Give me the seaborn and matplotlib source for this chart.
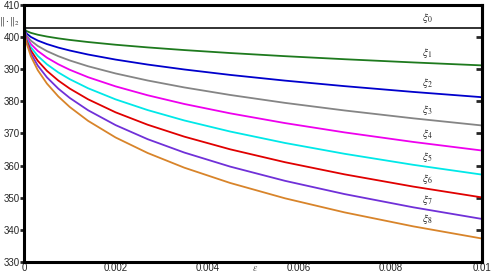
import numpy as np
import pandas as pd
import matplotlib
matplotlib.use("Agg")
import matplotlib.pyplot as plt
import seaborn as sns

eps = [0, 0.00005, 0.00015, 0.0003, 0.0005, 0.00075, 0.001, 0.0014, 0.002,
       0.0027, 0.0035, 0.0045, 0.0057, 0.007, 0.0085, 0.01]
xi0 = [402.8] * 16
xi1 = [402.8, 401.92, 401.33, 400.75, 400.18, 399.61, 399.13, 398.47, 397.63,
       396.80, 395.97, 395.05, 394.07, 393.12, 392.12, 391.2]
xi2 = [402.8, 401.20, 400.05, 398.94, 397.84, 396.74, 395.83, 394.58, 393.01,
       391.46, 389.93, 388.24, 386.46, 384.74, 382.94, 381.3]
xi3 = [402.8, 400.58, 398.90, 397.26, 395.65, 394.06, 392.73, 390.93, 388.69,
       386.50, 384.34, 382.00, 379.53, 377.17, 374.72, 372.5]
xi4 = [402.8, 400.06, 397.85, 395.71, 393.61, 391.55, 389.83, 387.52, 384.67,
       381.90, 379.19, 376.28, 373.24, 370.34, 367.37, 364.7]
xi5 = [402.8, 399.57, 396.84, 394.16, 391.55, 389.00, 386.90, 384.08, 380.62,
       377.29, 374.06, 370.62, 367.05, 363.68, 360.25, 357.2]
xi6 = [402.8, 399.13, 395.85, 392.64, 389.51, 386.47, 383.97, 380.64, 376.59,
       372.73, 369.02, 365.08, 361.06, 357.28, 353.47, 350.1]
xi7 = [402.8, 398.73, 394.91, 391.15, 387.49, 383.95, 381.06, 377.23, 372.61,
       368.23, 364.07, 359.70, 355.26, 351.14, 347.02, 343.4]
xi8 = [402.8, 398.39, 394.03, 389.72, 385.55, 381.52, 378.24, 373.93, 368.76,
       363.93, 359.36, 354.61, 349.82, 345.44, 341.09, 337.3]

names = ["ξ0", "ξ1", "ξ2", "ξ3", "ξ4", "ξ5", "ξ6", "ξ7", "ξ8"]
labels = [r"$\xi_{%d}$" % i for i in range(9)]
series = [xi0, xi1, xi2, xi3, xi4, xi5, xi6, xi7, xi8]
colors = ["#222222", "#1e7a1e", "#0000cc", "#858585", "#ee00ee",
          "#00e8e8", "#e00000", "#7030d8", "#d8842a"]

xticks = [0, 0.002, 0.004, 0.006, 0.008, 0.01]
xticklabels = ["0", "0.002", "0.004", "0.006", "0.008", "0.01"]
yticks = [330, 340, 350, 360, 370, 380, 390, 400, 410]

df = pd.concat([pd.DataFrame({"eps": eps, "val": s, "series": n})
                for n, s in zip(names, series)], ignore_index=True)

sns.set_style("white")
plt.rcParams["font.family"] = ["Liberation Sans", "DejaVu Sans"]
plt.rcParams["mathtext.fontset"] = "stix"

fig = plt.figure(figsize=(4.91, 2.75), dpi=100)
ax = fig.add_axes([24/491, 13/275, 458/491, 257/275])

sns.lineplot(data=df, x="eps", y="val", hue="series", palette=dict(zip(names, colors)),
             legend=False, linewidth=1.3, ax=ax, estimator=None, sort=True)

ax.set_xlim(0, 0.01)
ax.set_ylim(330, 410)
ax.set_xticks(xticks)
ax.set_xticklabels(xticklabels)
ax.set_yticks(yticks)
ax.set_xlabel("")
ax.set_ylabel("")

for sp in ax.spines.values():
    sp.set_linewidth(2.2)
    sp.set_color("black")
    sp.set_visible(True)

ax.tick_params(axis="x", direction="in", length=4, width=2, labelsize=7, pad=1, top=False)
ax.tick_params(axis="y", which="both", left=True, right=False, direction="out",
               length=3, width=2, labelsize=7, pad=0)
ax2 = ax.secondary_yaxis("right")
ax2.set_yticks(yticks)
ax2.tick_params(direction="in", length=4, width=2, labelright=False)
ax2.spines["right"].set_linewidth(2.2)

lab_x = 0.0088
for lab, s in zip(labels, series):
    yv = np.interp(lab_x, eps, s)
    ax.annotate(lab, xy=(lab_x, yv), xytext=(0, 7), textcoords="offset points",
                ha="center", va="center", fontsize=8, color="#222222")

fig.text(10/491, 1 - 22/275, r"$\|\cdot\|_2$", ha="center", va="center", fontsize=7, color="#333333")
fig.text(255/491, 1 - 268/275, r"$\varepsilon$", ha="center", va="center", fontsize=7, color="#555555")

fig.savefig("out.png", dpi=100)
